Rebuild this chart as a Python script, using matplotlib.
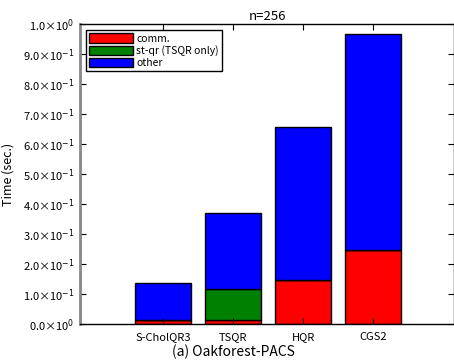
import matplotlib.pyplot as plt
from matplotlib.ticker import FuncFormatter
import numpy as np

plt.rcParams['font.family'] = ['Noto Sans CJK JP', 'DejaVu Sans']
plt.rcParams['mathtext.fontset'] = 'dejavusans'

methods = ['S-CholQR3', 'TSQR', 'HQR', 'CGS2']
comm = [0.015, 0.012, 0.147, 0.246]
stqr = [0.0, 0.104, 0.0, 0.0]
total = [0.138, 0.369, 0.657, 0.967]
other = [t - c - s for t, c, s in zip(total, comm, stqr)]


def sci(v, pos):
    if abs(v) < 1e-12:
        return r'0.0×10$^{0}$'
    e = int(np.floor(np.log10(abs(v)) + 1e-9))
    m = v / 10 ** e
    return r'%.1f×10$^{%d}$' % (m, e)


fig = plt.figure(figsize=(4.54, 3.63), dpi=100)
ax = fig.add_axes([80 / 454, 39 / 363, 374 / 454, 300 / 363])

x = np.arange(1, len(methods) + 1)
w = 0.8
ax.bar(x, comm, w, color='#ff0000', edgecolor='black', linewidth=1, label='comm.')
ax.bar(x, stqr, w, bottom=comm, color='#008000', edgecolor='black', linewidth=1,
       label='st-qr (TSQR only)')
bot = [c + s for c, s in zip(comm, stqr)]
ax.bar(x, other, w, bottom=bot, color='#0000ff', edgecolor='black', linewidth=1, label='other')

ax.set_xlim(-0.19, 5.15)
ax.set_ylim(0, 1.0)
ax.set_xticks(x)
ax.set_xticklabels(methods, fontsize=8)
ax.set_yticks(np.arange(0, 1.01, 0.1))
ax.yaxis.set_major_formatter(FuncFormatter(sci))
ax.tick_params(axis='y', labelsize=8, direction='in', right=True, length=4, pad=4)
ax.tick_params(axis='x', direction='in', top=True, length=4, pad=6)
for s in ax.spines.values():
    s.set_linewidth(1)
ax.spines['left'].set_color('#888888')
ax.spines['left'].set_linewidth(2)

ax.set_ylabel('Time (sec.)', fontsize=9, labelpad=6)
ax.set_title('n=256', fontsize=9.5, pad=3)
ax.legend(loc='upper left', fontsize=7.5, fancybox=False, edgecolor='black',
          handlelength=4.2, handleheight=1.0, borderpad=0.3, labelspacing=0.15,
          handletextpad=0.3, borderaxespad=0.6, framealpha=1)
fig.text(0.515, 0.03, '(a) Oakforest-PACS', ha='center', va='center', fontsize=10)

plt.savefig('out.png', dpi=100)
